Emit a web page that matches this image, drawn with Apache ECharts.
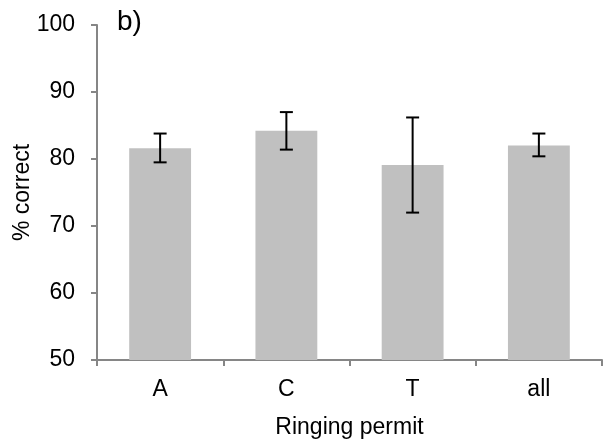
<!DOCTYPE html>
<html>
<head>
<meta charset="utf-8">
<script src="https://cdn.jsdelivr.net/npm/echarts@6/dist/echarts.min.js"></script>
<style>html,body{margin:0;padding:0;background:#fff}#c{width:604px;height:445px}</style>
</head>
<body>
<div id="c"></div>
<script>
const categories = ['A', 'C', 'T', 'all'];
const values = [81.6, 84.2, 79.1, 82.0];
const errLow = [79.5, 81.4, 72.0, 80.4];
const errHigh = [83.8, 87.0, 86.2, 83.8];
const yTicks = [50, 60, 70, 80, 90, 100];
const panelLabel = 'b)';

const chart = echarts.init(document.getElementById('c'), null, {renderer: 'canvas'});
const font = 'Liberation Sans, Arial, sans-serif';
const axisColor = '#868686';
const fs = 23;

chart.setOption({
  animation: false,
  backgroundColor: '#ffffff',
  grid: {left: 97, right: 2, top: 25, bottom: 85, containLabel: false, outerBoundsMode: 'none'},
  xAxis: {
    type: 'category',
    data: categories,
    name: 'Ringing permit',
    nameLocation: 'middle',
    nameGap: 56,
    nameMoveOverlap: false,
    nameTextStyle: {fontFamily: font, fontSize: fs, color: '#000'},
    axisLine: {lineStyle: {color: axisColor, width: 2}},
    axisTick: {show: true, length: 6, lineStyle: {color: axisColor, width: 2}},
    axisLabel: {fontFamily: font, fontSize: fs, color: '#000', margin: 18}
  },
  yAxis: {
    type: 'value',
    min: yTicks[0],
    max: yTicks[yTicks.length - 1],
    interval: 10,
    name: '% correct',
    nameLocation: 'middle',
    nameGap: 63,
    nameMoveOverlap: false,
    nameRotate: 90,
    nameTextStyle: {fontFamily: font, fontSize: fs, color: '#000'},
    axisLine: {show: true, lineStyle: {color: axisColor, width: 2}},
    axisTick: {show: true, length: 6, lineStyle: {color: axisColor, width: 2}},
    axisLabel: {fontFamily: font, fontSize: fs, color: '#000', margin: 22},
    splitLine: {show: false}
  },
  graphic: [{
    type: 'text',
    left: 117,
    top: 8,
    style: {text: panelLabel, font: '28px ' + font, fill: '#000'}
  }],
  series: [{
    type: 'bar',
    data: values,
    barWidth: '49%',
    itemStyle: {color: '#c0c0c0'}
  }, {
    type: 'custom',
    data: categories.map((c, i) => [i, errLow[i], errHigh[i]]),
    renderItem: function (params, api) {
      const x = api.value(0);
      const lo = api.coord([x, api.value(1)]);
      const hi = api.coord([x, api.value(2)]);
      const hw = 6.5;
      const st = {stroke: '#000', lineWidth: 2};
      return {
        type: 'group',
        children: [
          {type: 'line', shape: {x1: lo[0], y1: lo[1], x2: hi[0], y2: hi[1]}, style: st},
          {type: 'line', shape: {x1: lo[0] - hw, y1: lo[1], x2: lo[0] + hw, y2: lo[1]}, style: st},
          {type: 'line', shape: {x1: hi[0] - hw, y1: hi[1], x2: hi[0] + hw, y2: hi[1]}, style: st}
        ]
      };
    },
    z: 10
  }]
});
</script>
</body>
</html>
